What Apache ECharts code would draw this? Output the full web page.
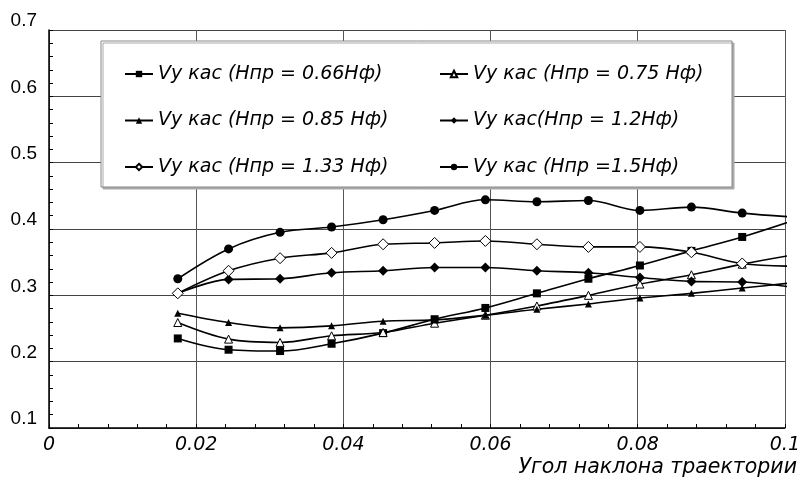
<!DOCTYPE html>
<html>
<head>
<meta charset="utf-8">
<script src="https://cdn.jsdelivr.net/npm/echarts@6/dist/echarts.min.js"></script>
<style>
  html, body { margin: 0; padding: 0; background: #fff; }
  #chart { width: 803px; height: 486px; }
</style>
</head>
<body>
<div id="chart"></div>
<script>
// угол наклона траектории, рад (1..5.8 град через 0.4)
var xs = [0.0175, 0.0244, 0.0314, 0.0384, 0.0454, 0.0524, 0.0593, 0.0663, 0.0733, 0.0803, 0.0873, 0.0942, 0.1012];

var h066 = [0.235, 0.218, 0.216, 0.227, 0.243, 0.264, 0.281, 0.303, 0.325, 0.345, 0.367, 0.388, 0.413];
var h075 = [0.259, 0.234, 0.229, 0.239, 0.244, 0.258, 0.270, 0.284, 0.300, 0.317, 0.331, 0.347, 0.361];
var h085 = [0.273, 0.259, 0.251, 0.254, 0.261, 0.263, 0.270, 0.279, 0.287, 0.296, 0.303, 0.311, 0.319];
var h12  = [0.303, 0.324, 0.325, 0.334, 0.337, 0.342, 0.342, 0.337, 0.334, 0.327, 0.321, 0.320, 0.312];
var h133 = [0.303, 0.337, 0.356, 0.364, 0.377, 0.379, 0.382, 0.377, 0.373, 0.373, 0.365, 0.348, 0.344];
var h15  = [0.325, 0.370, 0.395, 0.403, 0.414, 0.428, 0.444, 0.441, 0.443, 0.428, 0.433, 0.424, 0.418];

var names = [
	'Vy кас (Hпр = 0.66Hф)',
	'Vy кас (Hпр = 0.75 Hф)',
	'Vy кас (Hпр = 0.85 Hф)',
	'Vy кас(Hпр = 1.2Hф)',
	'Vy кас (Hпр = 1.33 Hф)',
	'Vy кас (Hпр =1.5Hф)'
];

function pairs(ys) {
	return xs.map(function (x, i) { return [x, ys[i]]; });
}

function line(name, ys, symbol, size, hollow) {
	return {
		name: name,
		type: 'line',
		data: pairs(ys),
		smooth: 0.35,
		symbol: symbol,
		symbolSize: size,
		showAllSymbol: true,
		clip: true,
		z: 2,
		lineStyle: { color: '#000', width: 1.6 },
		itemStyle: {
			color: hollow ? '#fff' : '#000',
			borderColor: '#000',
			borderWidth: hollow ? 1 : 0
		}
	};
}

var wide = '"DejaVu Sans", sans-serif';
var narrow = '"Liberation Sans", Arial, sans-serif';
var legendText = { fontStyle: 'italic', fontSize: 19, fontFamily: wide, color: '#000', lineHeight: 20 };

var myChart = echarts.init(document.getElementById('chart'));
var option = {
	backgroundColor: '#fff',
	animation: false,
	grid: { left: 49, right: 17, top: 30, bottom: 58, containLabel: false },
	title: {
		text: 'Угол наклона траектории',
		right: 1,
		top: 453,
		textStyle: { fontStyle: 'italic', fontWeight: 'normal', fontSize: 20.5, fontFamily: wide, color: '#000' }
	},
	graphic: [{
		type: 'rect',
		z: 3,
		shape: { x: 101, y: 41, width: 631, height: 146 },
		style: {
			fill: '#fff', stroke: '#888', lineWidth: 1,
			shadowColor: '#aaa', shadowOffsetX: 2, shadowOffsetY: 2, shadowBlur: 0
		}
	}],
	legend: [{
		data: [names[0], names[2], names[4]],
		orient: 'vertical',
		left: 119,
		top: 59,
		itemGap: 26.5,
		itemWidth: 28,
		itemHeight: 8,
		textStyle: legendText
	}, {
		data: [names[1], names[3], names[5]],
		orient: 'vertical',
		left: 434,
		top: 59,
		itemGap: 26.5,
		itemWidth: 28,
		itemHeight: 8,
		textStyle: legendText
	}],
	xAxis: {
		type: 'value',
		min: 0,
		max: 0.1,
		interval: 0.02,
		axisLine: { show: true, lineStyle: { color: '#000', width: 1.5 } },
		axisTick: { show: true, inside: true, length: 4, lineStyle: { color: '#000' } },
		minorTick: { show: true, splitNumber: 5, length: 4, lineStyle: { color: '#000' } },
		splitLine: { show: true, lineStyle: { color: '#555', width: 1 } },
		axisLabel: {
			margin: 8,
			fontStyle: 'italic',
			fontSize: 19,
			fontFamily: wide,
			color: '#000'
		}
	},
	yAxis: {
		type: 'value',
		min: 0.1,
		max: 0.7,
		interval: 0.1,
		axisLine: { show: true, lineStyle: { color: '#000', width: 1.5 } },
		axisTick: { show: true, inside: true, length: 4, lineStyle: { color: '#000' } },
		minorTick: { show: true, splitNumber: 5, length: 4, lineStyle: { color: '#000' } },
		splitLine: { show: true, lineStyle: { color: '#444', width: 1 } },
		axisLabel: {
			margin: 12,
			fontSize: 19,
			fontFamily: narrow,
			color: '#000',
			verticalAlign: 'bottom',
			lineHeight: 18
		}
	},
	series: [
		line(names[0], h066, 'rect', 8, false),
		line(names[1], h075, 'triangle', 8, true),
		line(names[2], h085, 'triangle', 7, false),
		line(names[3], h12, 'diamond', 10, false),
		line(names[4], h133, 'diamond', 11, true),
		line(names[5], h15, 'circle', 9, false)
	]
};
myChart.setOption(option);
</script>
</body>
</html>
